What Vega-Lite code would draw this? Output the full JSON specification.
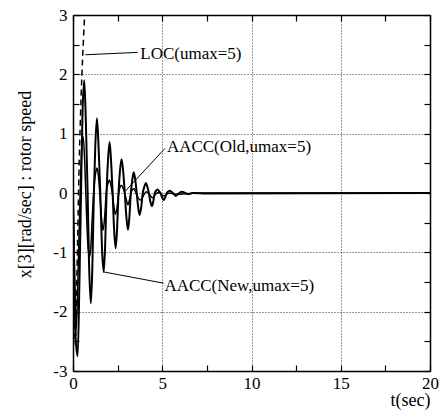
{
  "$schema": "https://vega.github.io/schema/vega-lite/v6.json",
  "width": 357,
  "height": 356,
  "autosize": "none",
  "padding": {"left": 73, "top": 15, "right": 9, "bottom": 48},
  "background": "white",
  "config": {
    "view": {"stroke": null},
    "font": "Liberation Serif",
    "axis": {
      "labelFont": "Liberation Serif",
      "titleFont": "Liberation Serif",
      "labelFontSize": 17,
      "titleFontSize": 18,
      "titleFontWeight": "normal",
      "labelColor": "black",
      "titleColor": "black",
      "domainColor": "black",
      "domainWidth": 1.5,
      "tickColor": "black",
      "tickWidth": 1.2,
      "labelOverlap": false,
      "labelFlush": false,
      "labelBound": false
    }
  },
  "datasets": {
    "lines": [
      {"t": 0, "v": 0, "s": "New"}, {"t": 0.06, "v": -1.2, "s": "New"}, {"t": 0.14, "v": -2.4, "s": "New"}, {"t": 0.26, "v": -2.75, "s": "New"}, {"t": 0.36, "v": -1.5, "s": "New"}, {"t": 0.45, "v": 0, "s": "New"}, {"t": 0.53, "v": 1.3, "s": "New"}, {"t": 0.63, "v": 1.9, "s": "New"}, {"t": 0.72, "v": 1.2, "s": "New"}, {"t": 0.82, "v": 0, "s": "New"}, {"t": 0.9, "v": -1.2, "s": "New"}, {"t": 1.0, "v": -1.86, "s": "New"}, {"t": 1.08, "v": -1.3, "s": "New"}, {"t": 1.17, "v": 0, "s": "New"}, {"t": 1.25, "v": 0.8, "s": "New"}, {"t": 1.34, "v": 1.26, "s": "New"}, {"t": 1.43, "v": 0.8, "s": "New"}, {"t": 1.53, "v": 0, "s": "New"}, {"t": 1.62, "v": -0.9, "s": "New"}, {"t": 1.72, "v": -1.33, "s": "New"}, {"t": 1.8, "v": -0.9, "s": "New"}, {"t": 1.88, "v": 0, "s": "New"}, {"t": 1.96, "v": 0.55, "s": "New"}, {"t": 2.05, "v": 0.86, "s": "New"}, {"t": 2.13, "v": 0.55, "s": "New"}, {"t": 2.22, "v": 0, "s": "New"}, {"t": 2.3, "v": -0.6, "s": "New"}, {"t": 2.39, "v": -0.93, "s": "New"}, {"t": 2.47, "v": -0.6, "s": "New"}, {"t": 2.55, "v": 0, "s": "New"}, {"t": 2.63, "v": 0.37, "s": "New"}, {"t": 2.72, "v": 0.57, "s": "New"}, {"t": 2.81, "v": 0.37, "s": "New"}, {"t": 2.9, "v": 0, "s": "New"}, {"t": 2.99, "v": -0.4, "s": "New"}, {"t": 3.08, "v": -0.62, "s": "New"}, {"t": 3.16, "v": -0.4, "s": "New"}, {"t": 3.24, "v": 0, "s": "New"}, {"t": 3.32, "v": 0.22, "s": "New"}, {"t": 3.4, "v": 0.35, "s": "New"}, {"t": 3.49, "v": 0.22, "s": "New"}, {"t": 3.57, "v": 0, "s": "New"}, {"t": 3.65, "v": -0.24, "s": "New"}, {"t": 3.73, "v": -0.37, "s": "New"}, {"t": 3.82, "v": -0.24, "s": "New"}, {"t": 3.91, "v": 0, "s": "New"}, {"t": 4.0, "v": 0.11, "s": "New"}, {"t": 4.09, "v": 0.17, "s": "New"}, {"t": 4.17, "v": 0.1, "s": "New"}, {"t": 4.25, "v": 0, "s": "New"}, {"t": 4.33, "v": -0.14, "s": "New"}, {"t": 4.42, "v": -0.22, "s": "New"}, {"t": 4.5, "v": -0.14, "s": "New"}, {"t": 4.58, "v": 0, "s": "New"}, {"t": 4.66, "v": 0.04, "s": "New"}, {"t": 4.74, "v": 0.06, "s": "New"}, {"t": 4.82, "v": 0.03, "s": "New"}, {"t": 4.9, "v": 0, "s": "New"}, {"t": 5.0, "v": -0.08, "s": "New"}, {"t": 5.08, "v": -0.12, "s": "New"}, {"t": 5.16, "v": -0.08, "s": "New"}, {"t": 5.25, "v": 0, "s": "New"}, {"t": 5.42, "v": 0.04, "s": "New"}, {"t": 5.6, "v": 0, "s": "New"}, {"t": 5.75, "v": -0.05, "s": "New"}, {"t": 5.95, "v": 0, "s": "New"}, {"t": 6.1, "v": 0.02, "s": "New"}, {"t": 6.3, "v": 0, "s": "New"}, {"t": 6.45, "v": -0.02, "s": "New"}, {"t": 6.7, "v": 0, "s": "New"}, {"t": 7.5, "v": -0.01, "s": "New"}, {"t": 20, "v": 0, "s": "New"},

      {"t": 0, "v": 0, "s": "Old"}, {"t": 0.08, "v": -1.2, "s": "Old"}, {"t": 0.18, "v": -2.3, "s": "Old"}, {"t": 0.28, "v": -1.4, "s": "Old"}, {"t": 0.38, "v": -0.2, "s": "Old"}, {"t": 0.48, "v": 0.7, "s": "Old"}, {"t": 0.57, "v": 0.95, "s": "Old"}, {"t": 0.66, "v": 0.5, "s": "Old"}, {"t": 0.75, "v": -0.3, "s": "Old"}, {"t": 0.85, "v": -0.95, "s": "Old"}, {"t": 0.92, "v": -1.08, "s": "Old"}, {"t": 1.0, "v": -0.9, "s": "Old"}, {"t": 1.08, "v": -0.4, "s": "Old"}, {"t": 1.17, "v": 0.05, "s": "Old"}, {"t": 1.26, "v": 0.32, "s": "Old"}, {"t": 1.34, "v": 0.42, "s": "Old"}, {"t": 1.42, "v": 0.3, "s": "Old"}, {"t": 1.5, "v": 0, "s": "Old"}, {"t": 1.59, "v": -0.4, "s": "Old"}, {"t": 1.68, "v": -0.63, "s": "Old"}, {"t": 1.77, "v": -0.42, "s": "Old"}, {"t": 1.86, "v": 0, "s": "Old"}, {"t": 1.96, "v": 0.16, "s": "Old"}, {"t": 2.05, "v": 0.22, "s": "Old"}, {"t": 2.13, "v": 0.12, "s": "Old"}, {"t": 2.2, "v": 0, "s": "Old"}, {"t": 2.29, "v": -0.22, "s": "Old"}, {"t": 2.38, "v": -0.36, "s": "Old"}, {"t": 2.47, "v": -0.24, "s": "Old"}, {"t": 2.56, "v": 0, "s": "Old"}, {"t": 2.64, "v": 0.1, "s": "Old"}, {"t": 2.72, "v": 0.13, "s": "Old"}, {"t": 2.81, "v": 0.08, "s": "Old"}, {"t": 2.9, "v": 0, "s": "Old"}, {"t": 3.0, "v": -0.13, "s": "Old"}, {"t": 3.08, "v": -0.2, "s": "Old"}, {"t": 3.16, "v": -0.12, "s": "Old"}, {"t": 3.25, "v": 0, "s": "Old"}, {"t": 3.34, "v": 0.06, "s": "Old"}, {"t": 3.42, "v": 0.07, "s": "Old"}, {"t": 3.5, "v": 0.02, "s": "Old"}, {"t": 3.6, "v": -0.05, "s": "Old"}, {"t": 3.78, "v": -0.12, "s": "Old"}, {"t": 3.95, "v": -0.04, "s": "Old"}, {"t": 4.1, "v": 0.02, "s": "Old"}, {"t": 4.3, "v": -0.03, "s": "Old"}, {"t": 4.45, "v": -0.08, "s": "Old"}, {"t": 4.62, "v": -0.02, "s": "Old"}, {"t": 4.8, "v": 0.01, "s": "Old"}, {"t": 5.1, "v": -0.05, "s": "Old"}, {"t": 5.4, "v": 0, "s": "Old"}, {"t": 5.7, "v": -0.02, "s": "Old"}, {"t": 6.0, "v": -0.02, "s": "Old"}, {"t": 6.5, "v": -0.01, "s": "Old"}, {"t": 7, "v": 0, "s": "Old"}, {"t": 20, "v": 0, "s": "Old"},

      {"t": 0, "v": 0, "s": "LOC"}, {"t": 0.04, "v": -1.3, "s": "LOC"}, {"t": 0.09, "v": -2.3, "s": "LOC"}, {"t": 0.13, "v": -2.55, "s": "LOC"}, {"t": 0.18, "v": -2.0, "s": "LOC"}, {"t": 0.25, "v": -0.9, "s": "LOC"}, {"t": 0.33, "v": 0.3, "s": "LOC"}, {"t": 0.42, "v": 1.3, "s": "LOC"}, {"t": 0.5, "v": 2.0, "s": "LOC"}, {"t": 0.58, "v": 2.55, "s": "LOC"}, {"t": 0.66, "v": 3.05, "s": "LOC"}, {"t": 0.72, "v": 3.4, "s": "LOC"}
    ],
    "notes": [
      {"t1": 0.69, "v1": 2.33, "t2": 3.62, "v2": 2.37, "tx": 3.77, "ty": 2.35, "label": "LOC(umax=5)"},
      {"t1": 2.89, "v1": 0.02, "t2": 5.15, "v2": 0.75, "tx": 5.26, "ty": 0.78, "label": "AACC(Old,umax=5)"},
      {"t1": 1.72, "v1": -1.33, "t2": 5.08, "v2": -1.52, "tx": 5.12, "ty": -1.56, "label": "AACC(New,umax=5)"}
    ]
  },
  "resolve": {"axis": {"x": "independent", "y": "independent"}},
  "layer": [
    {
      "data": {"name": "lines"},
      "transform": [{"filter": "datum.s === 'New'"}],
      "mark": {"type": "line", "interpolate": "monotone", "color": "black", "strokeWidth": 2, "clip": true},
      "encoding": {
        "x": {
          "field": "t", "type": "quantitative",
          "scale": {"domain": [0, 20], "nice": false, "zero": false},
          "axis": {
            "orient": "bottom",
            "title": "t(sec)",
            "titleX": 337, "titleY": 29, "titleAlign": "center", "titleBaseline": "middle",
            "values": [0, 2.5, 5, 7.5, 10, 12.5, 15, 17.5, 20],
            "labelExpr": "datum.value % 5 === 0 ? '' + datum.value : ''",
            "labelFont": "Liberation Serif", "labelFontSize": 17, "titleFont": "Liberation Serif",
            "encode": {"labels": {"update": {"font": {"value": "Liberation Serif"}}}},
            "tickSize": -6, "labelPadding": 10,
            "grid": true, "gridColor": "black", "gridDash": [1, 2], "gridWidth": 1,
            "gridOpacity": {"condition": {"test": "datum.value % 5 === 0", "value": 0.8}, "value": 0}
          }
        },
        "y": {
          "field": "v", "type": "quantitative",
          "scale": {"domain": [-3, 3], "nice": false, "zero": false},
          "axis": {
            "orient": "left",
            "title": "x[3][rad/sec] : rotor speed",
            "titleX": -48, "titleY": 169, "titleAlign": "center", "titleBaseline": "middle", "titleAngle": -90,
            "values": [-3, -2.5, -2, -1.5, -1, -0.5, 0, 0.5, 1, 1.5, 2, 2.5, 3],
            "labelExpr": "datum.value % 1 === 0 ? '' + datum.value : ''",
            "labelFont": "Liberation Serif", "labelFontSize": 17, "titleFont": "Liberation Serif",
            "encode": {"labels": {"update": {"font": {"value": "Liberation Serif"}}}},
            "tickSize": -6, "labelPadding": 12,
            "grid": true, "gridColor": "black", "gridDash": [1, 2], "gridWidth": 1,
            "gridOpacity": {"condition": {"test": "datum.value % 1 === 0", "value": 0.8}, "value": 0}
          }
        }
      }
    },
    {
      "data": {"name": "lines"},
      "transform": [{"filter": "datum.s === 'Old'"}],
      "mark": {"type": "line", "interpolate": "monotone", "color": "black", "strokeWidth": 1.5, "clip": true},
      "encoding": {
        "x": {
          "field": "t", "type": "quantitative",
          "axis": {"orient": "top", "title": null, "labels": false, "grid": false,
                   "values": [0, 2.5, 5, 7.5, 10, 12.5, 15, 17.5, 20], "tickSize": -6}
        },
        "y": {
          "field": "v", "type": "quantitative",
          "axis": {"orient": "right", "title": null, "labels": false, "grid": false,
                   "values": [-3, -2.5, -2, -1.5, -1, -0.5, 0, 0.5, 1, 1.5, 2, 2.5, 3], "tickSize": -6}
        }
      }
    },
    {
      "data": {"name": "lines"},
      "transform": [{"filter": "datum.s === 'LOC'"}],
      "mark": {"type": "line", "interpolate": "monotone", "color": "black", "strokeWidth": 1.5, "strokeDash": [6, 4], "clip": true},
      "encoding": {
        "x": {"field": "t", "type": "quantitative", "axis": null},
        "y": {"field": "v", "type": "quantitative", "axis": null}
      }
    },
    {
      "data": {"name": "notes"},
      "mark": {"type": "rule", "color": "black", "strokeWidth": 1},
      "encoding": {
        "x": {"field": "t1", "type": "quantitative", "axis": null},
        "y": {"field": "v1", "type": "quantitative", "axis": null},
        "x2": {"field": "t2"},
        "y2": {"field": "v2"}
      }
    },
    {
      "data": {"name": "notes"},
      "mark": {"type": "text", "align": "left", "baseline": "middle", "font": "Liberation Serif", "fontSize": 17, "color": "black"},
      "encoding": {
        "x": {"field": "tx", "type": "quantitative", "axis": null},
        "y": {"field": "ty", "type": "quantitative", "axis": null},
        "text": {"field": "label"}
      }
    }
  ]
}
